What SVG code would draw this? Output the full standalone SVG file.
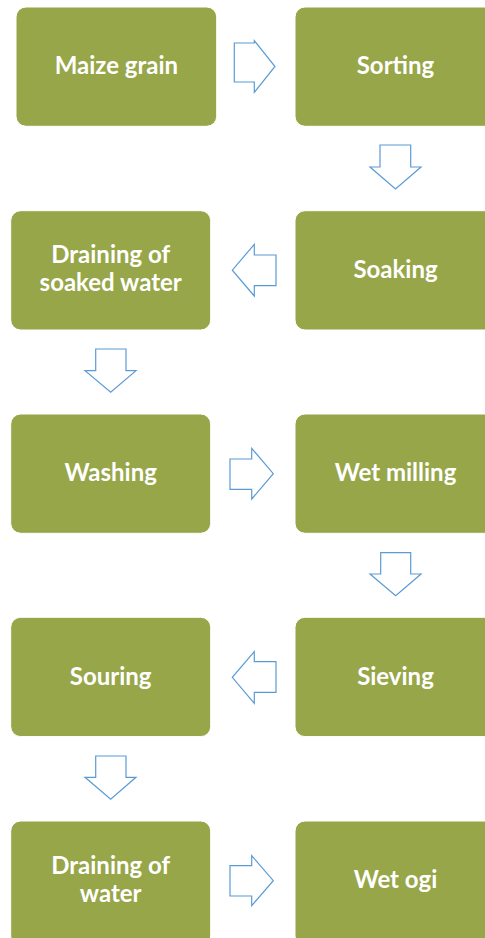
<svg xmlns="http://www.w3.org/2000/svg" width="485" height="938" viewBox="0 0 485 938">
<style>
.box{fill:#97A648;stroke:#FFFFFF;stroke-width:1}
.lbl{font-family:Lato,"Open Sans","Liberation Sans",sans-serif;font-weight:bold;font-size:24px;fill:#FFFFFF;text-anchor:middle}
.arr{fill:#FFFFFF;stroke:#5B9BD5;stroke-width:1.2;stroke-linejoin:miter}
</style>
<rect width="485" height="938" fill="#FFFFFF"/>
<g id="n-maize"><rect class="box" x="16" y="7" width="200.7" height="119.3" rx="10"/><text class="lbl" x="116.4" y="74">Maize grain</text></g>
<g id="n-sorting"><rect class="box" x="295" y="7" width="201" height="119.3" rx="10"/><text class="lbl" x="395.5" y="74">Sorting</text></g>
<g id="n-draining-soaked"><rect class="box" x="10.7" y="210.7" width="200" height="119.3" rx="10"/><text class="lbl" x="110.7" y="263.3">Draining of</text><text class="lbl" x="110.7" y="290.7">soaked water</text></g>
<g id="n-soaking"><rect class="box" x="295" y="210.7" width="201" height="119.3" rx="10"/><text class="lbl" x="395.5" y="277.5">Soaking</text></g>
<g id="n-washing"><rect class="box" x="10.7" y="414" width="200" height="119.3" rx="10"/><text class="lbl" x="110.7" y="481">Washing</text></g>
<g id="n-wetmilling"><rect class="box" x="295" y="414" width="201" height="119.3" rx="10"/><text class="lbl" x="395.5" y="481">Wet milling</text></g>
<g id="n-souring"><rect class="box" x="10.7" y="617.3" width="200" height="119.3" rx="10"/><text class="lbl" x="110.7" y="684.5">Souring</text></g>
<g id="n-sieving"><rect class="box" x="295" y="617.3" width="201" height="119.3" rx="10"/><text class="lbl" x="395.5" y="684.5">Sieving</text></g>
<g id="n-draining-water"><rect class="box" x="10.7" y="821" width="200" height="125" rx="10"/><text class="lbl" x="110.7" y="874.3">Draining of</text><text class="lbl" x="110.7" y="901.7">water</text></g>
<g id="n-wetogi"><rect class="box" x="295" y="821" width="201" height="125" rx="10"/><text class="lbl" x="395.5" y="888">Wet ogi</text></g>
<g id="connectors">
<path class="arr" d="M234.3,43 H254.3 V40.7 L275,66.5 L254.3,92.3 V82 H234.3 Z"/>
<path class="arr" d="M380,145 H410.7 V167 H421 L395.5,189 L370,167 H380 Z"/>
<path class="arr" d="M276,255 V285.7 H254.3 V296 L232.3,270.2 L254.3,244.3 V255 Z"/>
<path class="arr" d="M95.7,349 H126 V370.7 H136 L110.7,392.3 L85,370.7 H95.7 Z"/>
<path class="arr" d="M230,459 H251.7 V448.3 L273.3,473.7 L251.7,499 V489.3 H230 Z"/>
<path class="arr" d="M380.7,552.7 H410.7 V574 H421 L395.7,595.7 L370,574 H380.7 Z"/>
<path class="arr" d="M276,661.7 V692.3 H254.3 V703.3 L232.3,677.3 L254.3,651.7 V661.7 Z"/>
<path class="arr" d="M95.7,756 H126 V777.3 H136 L110.7,799.3 L85,777.3 H95.7 Z"/>
<path class="arr" d="M230,865.7 H251.7 V855.7 L273.3,880.7 L251.7,905.7 V896 H230 Z"/>
</g>
</svg>
